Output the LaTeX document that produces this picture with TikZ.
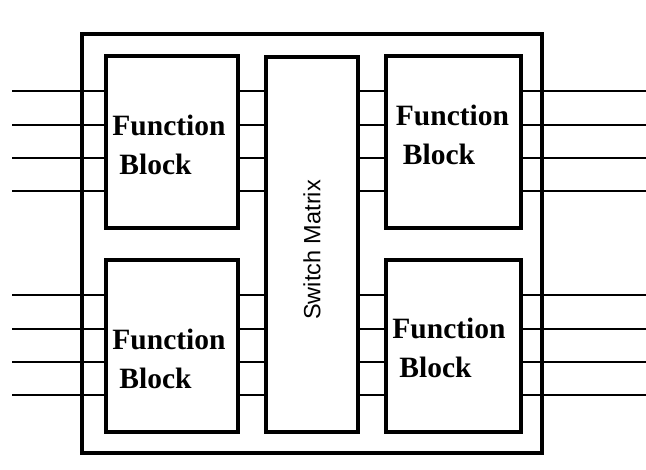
\documentclass[tikz,border=0pt]{standalone}
\usepackage{fontspec}
\setmainfont{Liberation Serif}
\setsansfont{Liberation Sans}
\usetikzlibrary{positioning}

\tikzset{
  blk/.style={draw,line width=3.4pt,minimum width=132pt,minimum height=172pt,inner sep=0pt},
  wire/.style={line width=2pt},
  fbtext/.style={font=\fontsize{29.5}{39}\selectfont\bfseries,align=left,inner sep=0pt},
}

\begin{document}
\begin{tikzpicture}[x=1pt,y=1pt]
    \useasboundingbox (0,0) rectangle (646,470);

    % Rahmen und Bloecke.
    \node[blk,minimum width=460pt,minimum height=419pt] (chip) at (312,226.5) {};
    \node[blk] (fbTL) at (172,328) {};
    \node[blk,minimum width=135pt] (fbTR) at (453.5,328) {};
    \node[blk] (fbBL) at (172,124) {};
    \node[blk,minimum width=135pt] (fbBR) at (453.5,124) {};
    \node[blk,minimum width=92pt,minimum height=375pt] (sm) at (312,225.5) {};

    % Leitungen.
    \foreach \dy in {51,17,-16,-49}{
        \foreach \b in {fbTL,fbBL}{
            \draw[wire] ([yshift=\dy]\b.west) -- +(-92,0);
            \draw[wire] ([yshift=\dy]\b.east) coordinate (p) -- (p -| sm.west);
        }
        \foreach \b in {fbTR,fbBR}{
            \draw[wire] ([yshift=\dy]\b.east) -- +(125,0);
            \draw[wire] ([yshift=\dy]\b.west) coordinate (p) -- (p -| sm.east);
        }
    }

    % Beschriftungen.
    \node[fbtext] (tTL) at ([xshift=-3pt,yshift=-2.5pt]fbTL.center) {Function\\\hspace*{7pt}Block};
    \node[fbtext] (tTR) at ([xshift=-1pt,yshift=7.5pt]fbTR.center) {Function\\\hspace*{7pt}Block};
    \node[fbtext] (tBL) at ([xshift=-3pt,yshift=-13pt]fbBL.center) {Function\\\hspace*{7pt}Block};
    \node[fbtext] (tBR) at ([xshift=-4.5pt,yshift=-2pt]fbBR.center) {Function\\\hspace*{7pt}Block};
    \node[rotate=90,inner sep=0pt,font=\sffamily\fontsize{23.5}{28}\selectfont]
        (smtext) at ([yshift=-5.5pt]sm.center) {Switch Matrix};
\end{tikzpicture}
\end{document}
